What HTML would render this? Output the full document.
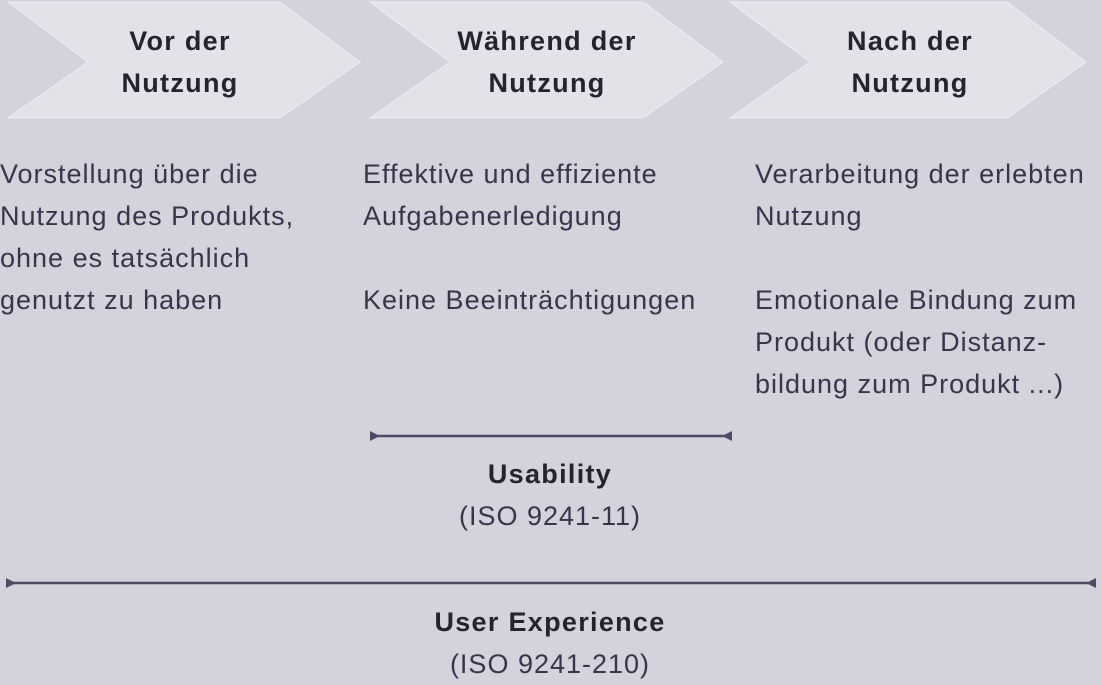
<!DOCTYPE html>
<html><head><meta charset="utf-8"><style>
html,body{margin:0;padding:0}
body{width:1102px;height:684px;background:#d4d2dd;position:relative;overflow:hidden;font-family:"Liberation Sans",sans-serif;color:#28263a}
.t{position:absolute;font-size:27px;font-weight:bold;text-align:center;line-height:42px;color:#25232e;letter-spacing:1.3px}
.p{position:absolute;font-size:27px;line-height:42px;color:#37354a;white-space:nowrap;letter-spacing:1px}
.c{position:absolute;text-align:center;font-size:27px;line-height:42px;color:#37354a;letter-spacing:1px}
.c b{letter-spacing:1.3px}
</style></head><body>
<svg width="1102" height="684" style="position:absolute;left:0;top:0">
<g fill="#e3e2e8" stroke="#eeedf2" stroke-width="1">
<polygon points="8,2 280,2 360,62 280,118 8,118 88,62"/>
<polygon points="370,2 643,2 723,62 643,118 370,118 450,62"/>
<polygon points="730,2 1007,2 1086,62 1007,118 730,118 810,62"/>
</g>
<g stroke="#4f4b66" stroke-width="2.5" fill="#4f4b66">
<line x1="372" y1="436" x2="730" y2="436"/>
<polygon points="370,431 380,436 370,441" stroke="none"/>
<polygon points="732,431 722,436 732,441" stroke="none"/>
<line x1="8" y1="583" x2="1094" y2="583"/>
<polygon points="6,578 16,583 6,588" stroke="none"/>
<polygon points="1096,578 1086,583 1096,588" stroke="none"/>
</g>
</svg>
<div class="t" style="left:60px;top:20px;width:240px">Vor der<br>Nutzung</div>
<div class="t" style="left:417px;top:20px;width:260px">Während der<br>Nutzung</div>
<div class="t" style="left:790px;top:20px;width:240px">Nach der<br>Nutzung</div>
<div class="p" style="left:0;top:153px">Vorstellung über die<br>Nutzung des Produkts,<br>ohne es tatsächlich<br>genutzt zu haben</div>
<div class="p" style="left:363px;top:153px">Effektive und effiziente<br>Aufgabenerledigung<br><br>Keine Beeinträchtigungen</div>
<div class="p" style="left:755px;top:153px">Verarbeitung der erlebten<br>Nutzung<br><br>Emotionale Bindung zum<br>Produkt (oder Distanz-<br>bildung zum Produkt ...)</div>
<div class="c" style="left:400px;top:453px;width:300px"><b style="color:#25232e">Usability</b><br>(ISO 9241-11)</div>
<div class="c" style="left:380px;top:601px;width:340px"><b style="color:#25232e">User Experience</b><br>(ISO 9241-210)</div>
</body></html>
